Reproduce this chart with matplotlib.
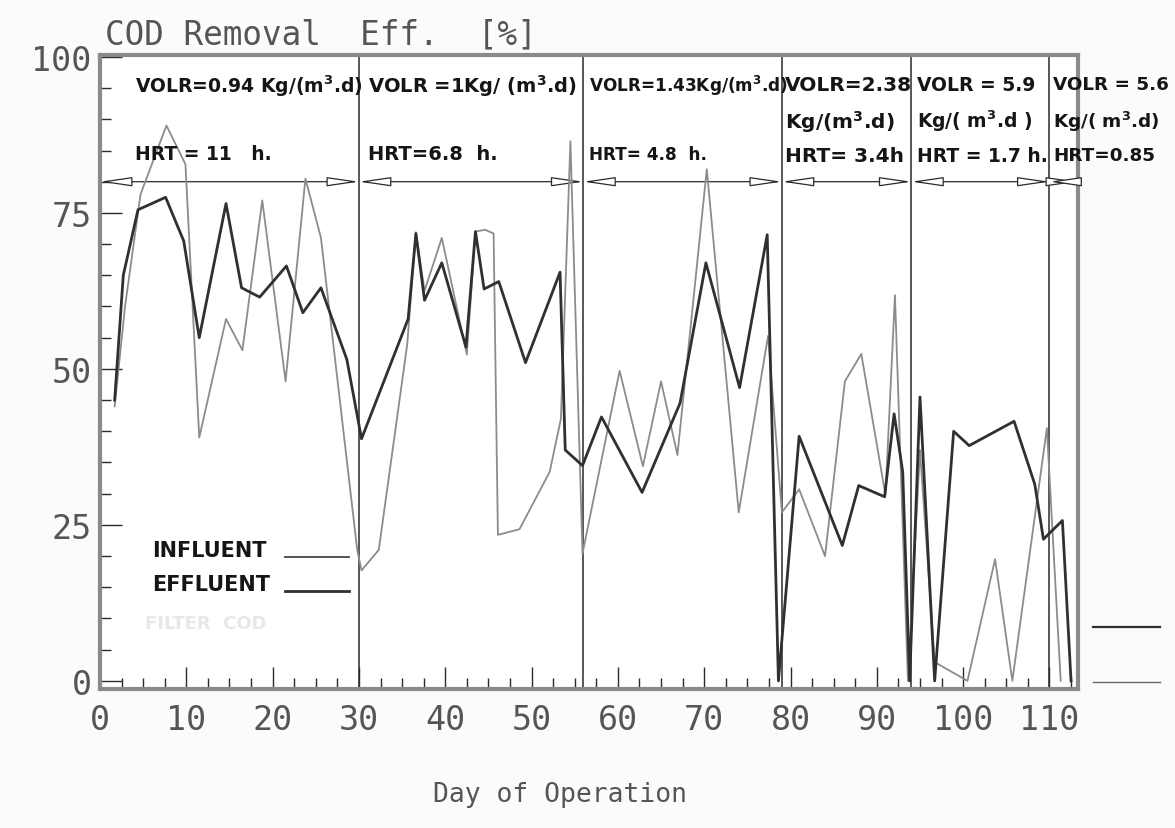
"""COD removal efficiency over the run, influent and effluent basis, split by loading phase."""

import matplotlib
matplotlib.use("Agg")
import matplotlib.pyplot as plt
from matplotlib.lines import Line2D

# effluent-based removal (heavy line)
eff_day = [1.7, 2.7, 4.4, 7.6, 9.7, 11.5, 14.6, 16.4, 18.5, 21.6, 23.5, 25.6, 28.6, 30.3,
           35.7, 36.6, 37.6, 39.6, 42.4, 43.5, 44.5, 46.2, 49.3, 53.3, 53.9, 55.9,
           58.1, 62.8, 67.2, 70.2, 74.1, 77.3, 78.6,
           81.0, 86.0, 87.9, 90.9, 92.0, 93.0, 93.8,
           95.0, 96.7, 98.9, 100.7, 105.9, 108.3, 109.3, 111.5, 112.5]
eff_val = [45, 65, 75.5, 77.5, 70.5, 55, 76.5, 63, 61.5, 66.5, 59, 63, 51.5, 38.8,
           58, 71.7, 61, 67, 53.5, 72, 62.8, 64, 51, 65.5, 37, 34.5,
           42.3, 30.2, 44.5, 67, 47, 71.5, 0,
           39.2, 21.7, 31.3, 29.5, 42.8, 33.5, 0,
           45.5, 0, 40, 37.7, 41.6, 31.5, 22.7, 25.7, 0]

# influent-based removal (light line)
inf_day = [1.7, 2.9, 4.7, 7.7, 9.9, 11.5, 14.6, 16.5, 18.8, 21.5, 23.8, 25.6, 29.8, 30.3,
           32.3, 35.6, 36.6, 37.6, 39.6, 42.5, 43.5, 44.6, 45.6, 46.1, 48.6, 52.1, 53.4,
           54.5, 55.9, 60.2, 62.9, 65.0, 66.9, 70.3, 74.0, 77.4,
           79.0, 81.0, 84.0, 86.3, 88.2, 91.0, 92.1, 93.6,
           95.0, 96.7, 100.5, 103.7, 105.7, 109.7, 111.3]
inf_val = [44, 60, 78, 89, 82.8, 39, 58, 53, 77, 48, 80.5, 71, 21, 17.7,
           21, 54, 71.9, 62.5, 71, 52.3, 72, 72.3, 71.7, 23.4, 24.3, 33.5, 42,
           86.5, 20.4, 49.7, 34.4, 48, 36.2, 82, 27, 55.3,
           27, 30.7, 20, 48, 52.4, 29.8, 61.8, 0,
           37, 3, 0, 19.5, 0, 40.5, 0]

# phase boundaries (days) and their labels
bounds = [0, 30, 56, 79, 94, 110, 113.3]
phase_lines = [
    ["VOLR=0.94 Kg/(m$^\\mathbf{3}$.d)", "HRT = 11   h."],
    ["VOLR =1Kg/ (m$^\\mathbf{3}$.d)", "HRT=6.8  h."],
    ["VOLR=1.43Kg/(m$^\\mathbf{3}$.d)", "HRT= 4.8  h."],
    ["VOLR=2.38", "Kg/(m$^\\mathbf{3}$.d)", "HRT= 3.4h"],
    ["VOLR = 5.9", "Kg/( m$^\\mathbf{3}$.d )", "HRT = 1.7 h."],
    ["VOLR = 5.6", "Kg/( m$^\\mathbf{3}$.d)", "HRT=0.85"],
]
phase_x = [4.0, 31.0, 56.6, 79.4, 94.6, 110.4]
phase_size = [13.5, 14, 12.2, 14.5, 13.5, 13.2]

xticks = list(range(0, 111, 10))
yticks = [0, 25, 50, 75, 100]

ink = "#2a2a2a"
mono = "DejaVu Sans Mono"
lettering = dict(family="DejaVu Sans", fontweight="bold", color="#151515")

fig = plt.figure(figsize=(11.75, 8.29), dpi=100, facecolor="#fbfbfa")
ax = fig.add_axes([0.0851, 0.1677, 0.8323, 0.7647])
ax.set_facecolor("white")
ax.set_xlim(0, 113.3)
ax.set_ylim(-1.3, 100.3)

for s in ax.spines.values():
    s.set_linewidth(3)
    s.set_color("#8a8a8a")

ax.set_xticks(xticks)
ax.set_xticks([t * 2.5 for t in range(46)], minor=True)
ax.set_yticks(yticks)
ax.set_yticks(list(range(0, 101, 5)), minor=True)
ax.tick_params(which="both", direction="in", color=ink, width=1)
ax.tick_params(which="major", length=16, pad=10)
ax.tick_params(which="minor", length=8)
ax.set_xticklabels([str(t) for t in xticks], family=mono, fontsize=24, color="#555")
ax.set_yticklabels([str(t) for t in yticks], family=mono, fontsize=24, color="#555")
ax.tick_params(axis="y", pad=6)

# phase boundaries
for b in bounds[1:-1]:
    ax.axvline(b, color=ink, lw=1.1, zorder=2)

# double-headed arrows spanning each phase
for a, b in zip(bounds[:-1], bounds[1:]):
    ax.annotate("", xy=(a, 80), xytext=(b, 80),
                arrowprops=dict(arrowstyle="<|-|>,head_length=1.1,head_width=0.16",
                                mutation_scale=18, lw=0.9, color=ink, fc="white",
                                shrinkA=0, shrinkB=0))

ax.plot(inf_day, inf_val, color="#8c8c8c", lw=1.3, zorder=3)
ax.plot(eff_day, eff_val, color="#303030", lw=2.0, zorder=4)

# phase labels
for x, lines, fs in zip(phase_x, phase_lines, phase_size):
    if len(lines) == 2:
        ys = [95.5, 84.5]
    else:
        ys = [95.6, 89.8, 84.2]
    for y, t in zip(ys, lines):
        ax.text(x, y, t, va="center", ha="left", fontsize=fs, **lettering)

# hand-lettered key
ax.text(6.0, 21.0, "INFLUENT", va="center", ha="left", fontsize=15, **lettering)
ax.text(6.0, 15.5, "EFFLUENT", va="center", ha="left", fontsize=15, **lettering)
ax.plot([21.4, 28.8], [19.8, 19.8], color="#444", lw=1.3)
ax.plot([21.4, 28.8], [14.4, 14.4], color="#303030", lw=2.0)
ax.text(5.2, 9.3, "FILTER  COD", va="center", ha="left", family="DejaVu Sans",
        fontweight="bold", fontsize=13, color="#e8e8e8", zorder=1)

fig.text(0.0894, 0.958, "COD Removal  Eff.  [%]", family=mono, fontsize=23.5,
         color="#555", va="center", ha="left")
fig.text(0.477, 0.041, "Day of Operation", family=mono, fontsize=19,
         color="#555", va="center", ha="center")

# short marks to the right of the frame
fig.add_artist(Line2D([0.930, 0.987], [0.2425, 0.2425], color="#303030", lw=1.6))
fig.add_artist(Line2D([0.930, 0.987], [0.176, 0.176], color="#666", lw=1.0))

fig.savefig("out.png", dpi=100, facecolor=fig.get_facecolor())
